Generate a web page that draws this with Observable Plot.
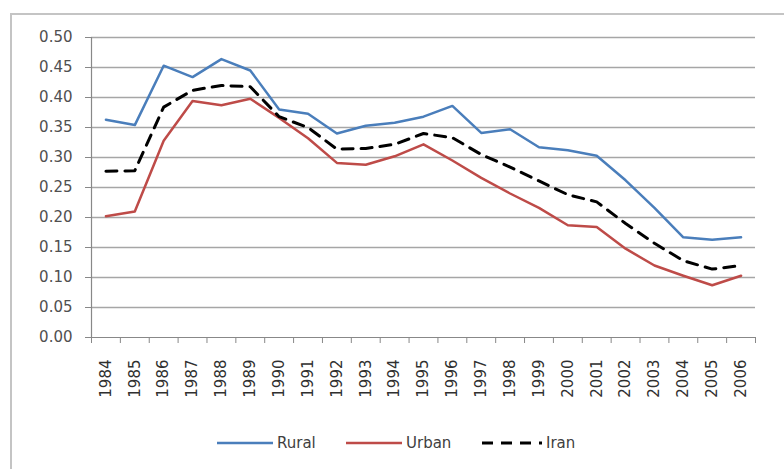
<!DOCTYPE html>
<html>
<head>
<meta charset="utf-8">
<script src="https://cdn.jsdelivr.net/npm/d3@7"></script>
<script src="https://cdn.jsdelivr.net/npm/@observablehq/plot@0.6"></script>
<style>
  html, body { margin: 0; padding: 0; background: #fff; }
  #page { position: relative; width: 784px; height: 469px; overflow: hidden; font-family: "DejaVu Sans", sans-serif; }
  #frame { position: absolute; left: 10px; top: 13px; width: 800px; height: 500px; border-left: 2px solid #c4c4c4; border-top: 2px solid #c4c4c4; }
  #chart { position: absolute; left: 0; top: 0; }
  .leg { position: absolute; top: 433px; font-size: 15px; color: #404040; line-height: 20px; height: 20px; display: flex; align-items: center; }
  .leg svg { margin-right: 4px; }
</style>
</head>
<body>
<div id="page">
  <div id="frame"></div>
  <div id="chart"></div>
  <div class="leg" style="left:217px"><svg width="56" height="6"><line x1="0" x2="56" y1="3" y2="3" stroke="#4a7ebb" stroke-width="2.5"/></svg>Rural</div>
  <div class="leg" style="left:346px"><svg width="56" height="6"><line x1="0" x2="56" y1="3" y2="3" stroke="#be4b48" stroke-width="2.5"/></svg>Urban</div>
  <div class="leg" style="left:482px"><svg width="60" height="6"><line x1="0" x2="60" y1="3" y2="3" stroke="#000" stroke-width="3" stroke-dasharray="11,8"/></svg>Iran</div>
</div>
<script>
const years = [1984,1985,1986,1987,1988,1989,1990,1991,1992,1993,1994,1995,1996,1997,1998,1999,2000,2001,2002,2003,2004,2005,2006];
const rural = [0.363,0.354,0.453,0.434,0.464,0.445,0.380,0.373,0.340,0.353,0.358,0.368,0.386,0.341,0.347,0.317,0.312,0.303,0.262,0.216,0.167,0.163,0.167];
const urban = [0.202,0.210,0.328,0.394,0.387,0.398,0.366,0.332,0.291,0.288,0.302,0.322,0.295,0.266,0.240,0.216,0.187,0.184,0.148,0.120,0.103,0.087,0.103];
const iran  = [0.277,0.278,0.384,0.412,0.420,0.418,0.368,0.350,0.314,0.315,0.322,0.340,0.333,0.305,0.284,0.261,0.238,0.226,0.190,0.157,0.128,0.114,0.120];
const yTicks = [0,0.05,0.10,0.15,0.20,0.25,0.30,0.35,0.40,0.45,0.50];

const series = [
  {name: "Rural", values: rural, color: "#4a7ebb", dash: null, width: 2.5},
  {name: "Urban", values: urban, color: "#be4b48", dash: null, width: 2.5},
  {name: "Iran", values: iran, color: "#000000", dash: "11,8", width: 3}
];
const rows = series.flatMap(s => years.map((y, i) => ({series: s.name, year: y, value: s.values[i]})));
const bounds = [...years.map(y => y - 0.5), years[years.length - 1] + 0.5];
const x0 = years[0] - 0.5, x1 = years[years.length - 1] + 0.5;

const plot = Plot.plot({
  width: 784,
  height: 400,
  marginLeft: 91,
  marginRight: 29,
  marginTop: 37,
  marginBottom: 63,
  style: {fontFamily: "DejaVu Sans, sans-serif", fontSize: "15px", color: "#404040", background: "transparent"},
  x: {type: "linear", domain: [x0, x1]},
  y: {domain: [0, 0.5]},
  marks: [
    Plot.gridY(yTicks.slice(1), {stroke: "#a6a6a6", strokeWidth: 1.6, strokeOpacity: 1}),
    Plot.ruleX([x0], {stroke: "#888", strokeWidth: 1.2}),
    Plot.ruleY([0], {stroke: "#888", strokeWidth: 1.2}),
    Plot.axisY({ticks: yTicks, tickFormat: d3.format(".2f"), tickSize: 6, tickPadding: 13, stroke: "#888", label: null, fill: "#505050"}),
    Plot.axisX({ticks: bounds, tickSize: 6, tickFormat: () => "", label: null, stroke: "#888"}),
    Plot.axisX({ticks: years, tickSize: 0, tickPadding: 22, tickRotate: -90, tickFormat: d => String(d), label: null, fill: "#303030"}),
    ...series.map(s => Plot.line(rows.filter(r => r.series === s.name), {
      x: "year", y: "value", stroke: s.color, strokeWidth: s.width,
      strokeDasharray: s.dash, strokeLinejoin: "round", curve: "linear"
    }))
  ]
});
document.getElementById("chart").appendChild(plot);
</script>
</body>
</html>
